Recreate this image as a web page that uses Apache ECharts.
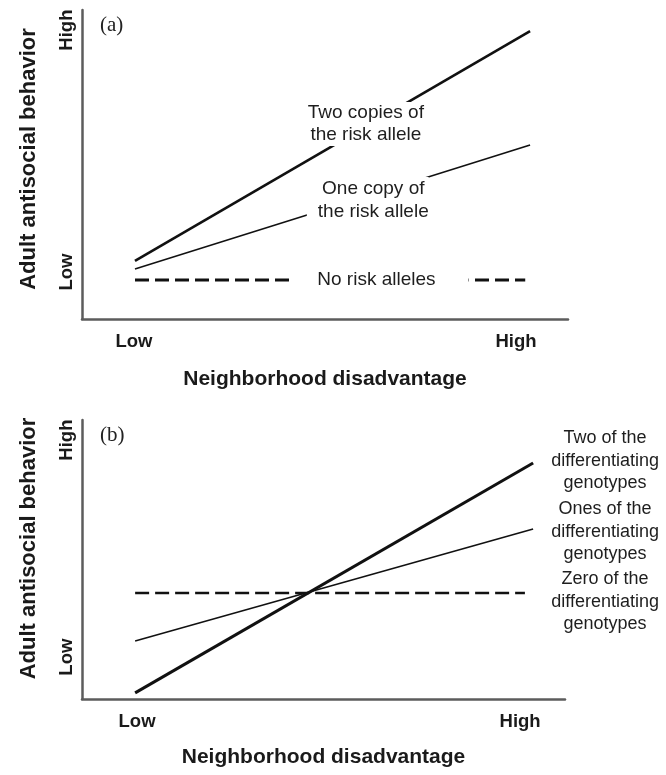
<!DOCTYPE html>
<html>
<head>
<meta charset="utf-8">
<title>Neighborhood disadvantage and adult antisocial behavior</title>
<script src="https://cdn.jsdelivr.net/npm/echarts@6/dist/echarts.min.js"></script>
<style>
  html, body { margin: 0; padding: 0; background: #fff; }
  #chart { width: 666px; height: 775px; }
</style>
</head>
<body>
<div id="chart"></div>
<script>
// Conceptual scale: 0 = axis origin, 10 = far end of each axis.
const tickNames = ['Low', 'High'];

// Panel (a): risk-allele model
const xTicksA = [1.07, 8.93];
const yTicksA = [1.52, 9.35];
const xEndsA = [1.09, 9.22];
const twoCopiesA = [1.88, 9.32];
const oneCopyA = [1.62, 5.63];
const noRiskA = [1.26, 1.26];
const noRiskEndsA = [1.09, 9.12];
const labelTextA = ['Two copies of\nthe risk allele', 'One copy of\nthe risk allele', 'No risk alleles'];
const labelAnchorA = [[5.84, 6.31], [5.88, 3.85], [6.13, 1.26]];

// Panel (b): differentiating-genotypes model
const xTicksB = [1.14, 9.07];
const yTicksB = [1.5, 9.28];
const xEndsB = [1.10, 9.34];
const twoGenoB = [0.22, 8.46];
const oneGenoB = [2.08, 6.09];
const zeroGenoB = [3.80, 3.80];
const zeroEndsB = [1.10, 9.17];
const labelTextB = ['Two of the\ndifferentiating\ngenotypes', 'Ones of the\ndifferentiating\ngenotypes', 'Zero of the\ndifferentiating\ngenotypes'];
const labelAnchorB = [[10.83, 8.53], [10.83, 5.99], [10.83, 3.48]];

const SANS = '"Liberation Sans", Arial, Helvetica, sans-serif';
const SERIF = '"Liberation Serif", "Times New Roman", serif';
const AXIS_COLOR = '#5c5c5c';
const INK = '#111';

function pairs(xs, ys) { return xs.map((x, i) => [x, ys[i]]); }
function nameFor(ticks) {
  return function (v) {
    let best = 0;
    ticks.forEach((t, i) => { if (Math.abs(t - v) < Math.abs(ticks[best] - v)) best = i; });
    return tickNames[best];
  };
}

function xAxisFor(gridIndex, ticks, gap) {
  return {
    type: 'value', gridIndex, min: 0, max: 10,
    name: 'Neighborhood disadvantage', nameLocation: 'middle', nameGap: gap,
    nameTextStyle: { fontFamily: SANS, fontSize: 21, fontWeight: 'bold', color: '#1a1a1a' },
    axisLine: { show: true, lineStyle: { color: AXIS_COLOR, width: 2.5 } },
    axisTick: { show: false }, splitLine: { show: false },
    axisLabel: {
      customValues: ticks, formatter: nameFor(ticks), margin: 13,
      fontFamily: SANS, fontSize: 18.5, fontWeight: 'bold', color: '#1a1a1a'
    }
  };
}
function yAxisFor(gridIndex, ticks, shift) {
  return {
    type: 'value', gridIndex, min: 0, max: 10,
    name: 'Adult antisocial behavior', nameLocation: 'middle', nameGap: 42,
    nameTextStyle: { fontFamily: SANS, fontSize: 22, fontWeight: 'bold', color: '#1a1a1a',
                     padding: [0, 0, 0, shift] },
    axisLine: { show: true, lineStyle: { color: AXIS_COLOR, width: 2.5 } },
    axisTick: { show: false }, splitLine: { show: false },
    axisLabel: {
      customValues: ticks, formatter: nameFor(ticks), rotate: 90, margin: 6,
      fontFamily: SANS, fontSize: 18.5, fontWeight: 'bold', color: '#1a1a1a'
    }
  };
}
function lineSeries(idx, data, width, dashed) {
  return {
    type: 'line', xAxisIndex: idx, yAxisIndex: idx, data, symbol: 'none',
    silent: true, animation: false, z: 2,
    lineStyle: { color: INK, width, type: dashed ? [14, 6] : 'solid', cap: 'butt' }
  };
}
function labelSeries(idx, texts, anchors, style, clip) {
  return {
    type: 'scatter', xAxisIndex: idx, yAxisIndex: idx, clip, z: 5, silent: true, animation: false,
    symbolSize: 1, itemStyle: { color: '#fff', opacity: 1 },
    data: anchors.map((a, i) => ({ value: a, label: Object.assign({ formatter: texts[i] }, style[i] || {}) })),
    label: {
      show: true, position: 'inside', fontFamily: SANS, color: '#1e1e1e', opacity: 1,
      align: 'center', verticalAlign: 'middle'
    }
  };
}

const chart = echarts.init(document.getElementById('chart'), null, { renderer: 'canvas' });
chart.setOption({
  backgroundColor: '#fff',
  animation: false,
  title: [
    { text: '(a)', left: 95, top: 10, textStyle: { fontFamily: SERIF, fontSize: 21, fontWeight: 'normal', color: '#222' } },
    { text: '(b)', left: 95, top: 420, textStyle: { fontFamily: SERIF, fontSize: 21, fontWeight: 'normal', color: '#222' } }
  ],
  grid: [
    { left: 82, top: 10, width: 486, height: 309 },
    { left: 82, top: 420, width: 483, height: 279 }
  ],
  xAxis: [xAxisFor(0, xTicksA, 50), xAxisFor(1, xTicksB, 48)],
  yAxis: [yAxisFor(0, yTicksA, 11), yAxisFor(1, yTicksB, 22)],
  series: [
    lineSeries(0, pairs(xEndsA, twoCopiesA), 2.6, false),
    lineSeries(0, pairs(xEndsA, oneCopyA), 1.6, false),
    lineSeries(0, pairs(noRiskEndsA, noRiskA), 3, true),
    labelSeries(0, labelTextA, labelAnchorA, [
      { fontSize: 19, lineHeight: 22, backgroundColor: '#fff', padding: [0, 0, 0, 0] },
      { fontSize: 19, lineHeight: 23, backgroundColor: '#fff', padding: [0, 0, 0, 11] },
      { fontSize: 19, lineHeight: 23, backgroundColor: '#fff', padding: [4, 33, 4, 26] }
    ], true),
    lineSeries(1, pairs(xEndsB, twoGenoB), 3, false),
    lineSeries(1, pairs(xEndsB, oneGenoB), 1.6, false),
    lineSeries(1, pairs(zeroEndsB, zeroGenoB), 2.6, true),
    labelSeries(1, labelTextB, labelAnchorB, [
      { fontSize: 18, lineHeight: 22.5 },
      { fontSize: 18, lineHeight: 22.5 },
      { fontSize: 18, lineHeight: 22.5 }
    ], false)
  ]
});
</script>
</body>
</html>
